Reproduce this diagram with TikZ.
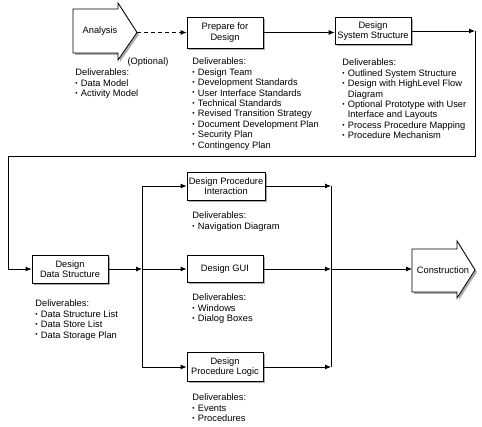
\documentclass[tikz,border=0pt]{standalone}
\usepackage{fontspec}
\setmainfont{Liberation Sans}
\usetikzlibrary{arrows.meta,shadows}

% small bullet for the deliverable lists
\newcommand{\bul}{\makebox[5.5pt][l]{\raisebox{1.2pt}{\fontsize{6.5}{6.5}\selectfont\textbullet}}}

\tikzset{
  shade/.style={drop shadow={shadow xshift=2pt,shadow yshift=-2pt,fill=gray!65,opacity=1}},
  stagebox/.style={draw,fill=white,shade,minimum width=76pt,minimum height=28pt,
                   inner sep=1pt,align=center},
  bigarrow/.style={draw,fill=white,shade},
  deliv/.style={anchor=north west,align=left,inner sep=0pt}
}

\begin{document}
\begin{tikzpicture}[x=1pt,y=-1pt,line width=0.8pt,>={Latex[length=6pt,width=5pt]},
    font=\fontsize{9.3}{10.4}\selectfont]
  \useasboundingbox (0,0) rectangle (482,427);

  % outer arrows: Analysis and Construction
  \draw[bigarrow] (73,9) -- (118,9) -- (118,3) -- (137,32.5) -- (118,60) -- (118,53) -- (73,53) -- cycle;
  \node (analysis) at (100,31) {Analysis};
  \coordinate (analysisTip) at (137,32.5);

  \draw[bigarrow] (412,249) -- (457,249) -- (457,241) -- (475,270) -- (457,298) -- (457,292) -- (412,292) -- cycle;
  \node (constr) at (443,270) {Construction};
  \coordinate (constrIn) at (412,269);

  % top row
  \node[stagebox,minimum height=31pt] (prep) at (225,32.5) {Prepare for\\Design};
  \node[stagebox,minimum height=27pt] (dss) at (373,31) {Design\\System Structure};

  % lower stages
  \node[stagebox] (dds) at (70,269) {Design\\Data Structure};
  \node[stagebox,minimum width=78pt] (dpi) at (226,186) {Design Procedure\\Interaction};
  \node[stagebox,minimum height=27pt] (gui) at (225,269) {Design GUI};
  \node[stagebox,minimum height=29pt] (dpl) at (225,367) {Design\\Procedure Logic};

  % turning points and junctions
  \coordinate (turnA) at (475,31);
  \coordinate (turnB) at (475,156);
  \coordinate (turnC) at (8,156);
  \coordinate (turnD) at (8,269);
  \coordinate (splitTop) at (142,186);
  \coordinate (splitMid) at (142,269);
  \coordinate (splitBot) at (142,367);
  \coordinate (joinTop) at (331,186);
  \coordinate (joinMid) at (331,269);
  \coordinate (joinBot) at (331,367);

  % connectors
  \draw[->,dash pattern=on 4pt off 3pt] (analysisTip) -- (prep);
  \draw[->] (prep.east) -- (prep.east -| dss.west);
  \draw[->] (dss) -- (turnA);
  \draw[->] (turnA) -- (turnB) -- (turnC) -- (turnD) -- (dds);
  \draw[->] (dds) -- (splitMid);
  \draw (splitTop) -- (splitBot);
  \draw[->] (splitTop) -- (dpi);
  \draw[->] (splitMid) -- (gui);
  \draw[->] (splitBot) -- (dpl);
  \draw[->] (dpi) -- (joinTop);
  \draw[->] (gui) -- (joinMid);
  \draw[->] (dpl) -- (joinBot);
  \draw (joinTop) -- (joinBot);
  \draw[->] (joinMid) -- (constrIn);

  % labels and deliverables
  \node (optional) at (148,62) {(Optional)};
  \node[deliv] (analysisDel) at (75,68.7) {Deliverables:\\\bul Data Model\\\bul Activity Model};
  \node[deliv] (prepDel) at (192,57.7) {Deliverables:\\\bul Design Team\\\bul Development Standards\\
    \bul User Interface Standards\\\bul Technical Standards\\\bul Revised Transition Strategy\\
    \bul Document Development Plan\\\bul Security Plan\\\bul Contingency Plan};
  \node[deliv] (dssDel) at (342,58.7) {Deliverables:\\\bul Outlined System Structure\\
    \bul Design with HighLevel Flow\\\hspace*{5.5pt}Diagram\\\bul Optional Prototype with User\\
    \hspace*{5.5pt}Interface and Layouts\\\bul Process Procedure Mapping\\\bul Procedure Mechanism};
  \node[deliv] (ddsDel) at (35,299.7) {Deliverables:\\\bul Data Structure List\\\bul Data Store List\\\bul Data Storage Plan};
  \node[deliv] (dpiDel) at (192,211.7) {Deliverables:\\\bul Navigation Diagram};
  \node[deliv] (guiDel) at (192,293.7) {Deliverables:\\\bul Windows\\\bul Dialog Boxes};
  \node[deliv] (dplDel) at (192,393.7) {Deliverables:\\\bul Events\\\bul Procedures};
\end{tikzpicture}
\end{document}
